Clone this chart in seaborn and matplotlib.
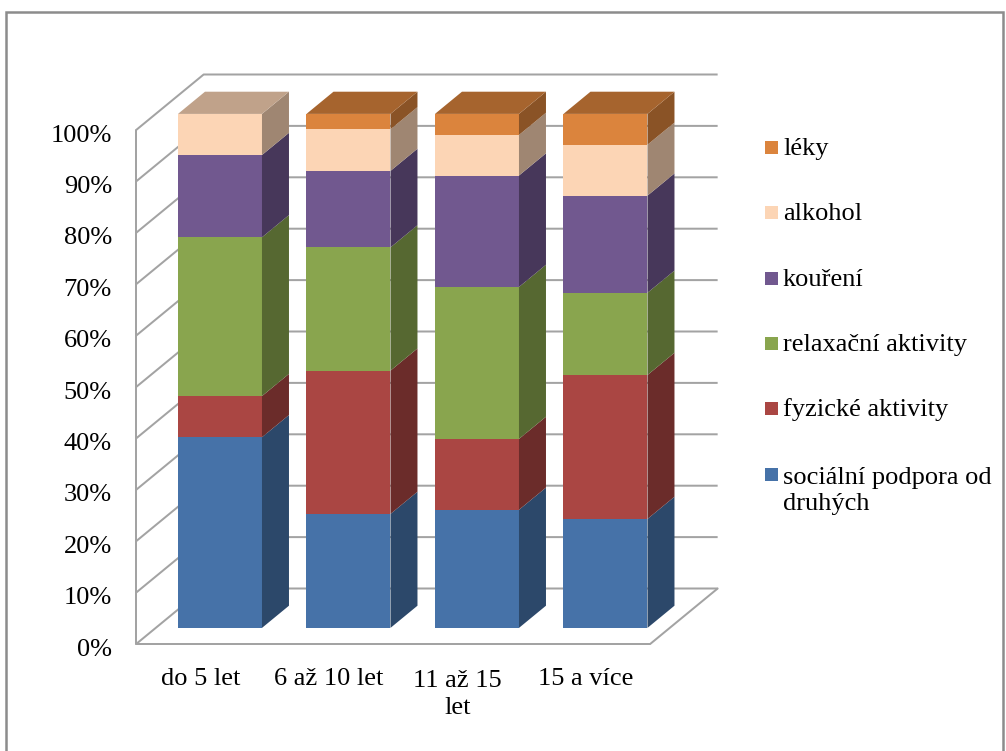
import numpy as np
import matplotlib
matplotlib.use("Agg")
import matplotlib.pyplot as plt
from matplotlib.colors import to_rgb
from matplotlib.lines import Line2D
from matplotlib.patches import Polygon, Rectangle
from matplotlib.transforms import Affine2D
import seaborn as sns

# ---- data -------------------------------------------------------------
categories = ["do 5 let", "6 až 10 let", "11 až 15\nlet", "15 a více"]
series_names = ["sociální podpora od\ndruhých", "fyzické aktivity",
                "relaxační aktivity", "kouření", "alkohol", "léky"]
social = [37.1, 22.2, 23.0, 21.2]
physical = [8.0, 27.9, 13.8, 28.0]
relaxation = [30.9, 24.0, 29.6, 16.0]
smoking = [16.0, 14.9, 21.7, 18.9]
alcohol = [8.0, 8.1, 7.9, 9.9]
medication = [0.0, 3.0, 4.1, 6.0]
series_colors = ["#4672A8", "#AA4643", "#89A54E", "#71588F", "#FCD5B5", "#DB843D"]
y_ticks = [0, 10, 20, 30, 40, 50, 60, 70, 80, 90, 100]
y_tick_labels = [f"{v}%" for v in y_ticks]

values = np.array([social, physical, relaxation, smoking, alcohol, medication], float)
shares = values / values.sum(axis=0) * 100.0  # 100 % stacked
positions = np.arange(len(categories))

# ---- layout (pixels) ----------------------------------------------------
W, H = 1006, 751
PX_X, PX_Y = 128.5, 5.14          # pixels per category unit / per percent
X0, Y0 = 200.4, 644.0             # pixel of category 0, 0 % on the front plane
DX, DY = 67.5 / PX_X, 55.5 / PX_Y  # depth of the floor in data units
D_FRONT, D_BACK = 0.29, 0.69      # bar depth range (fraction of floor depth)
BAR_W = 84 / PX_X

GRID = "#A3A3A3"
GRID_LW = 2.0 * 72 / 100
FONT = 19
LINE_GAP = 28.5  # pixels between wrapped text lines


def to_data(px, py):
    return (px - X0) / PX_X, (Y0 - py) / PX_Y


def shade(c, f):
    return tuple(np.clip(np.array(to_rgb(c)) * f, 0, 1))


sns.set_theme(style="white")
plt.rcParams["font.family"] = ["Liberation Serif", "DejaVu Serif"]

fig = plt.figure(figsize=(W / 100, H / 100), dpi=100)
ax = fig.add_axes([0, 0, 1, 1])
ax.set_axis_off()

# ---- walls and floor ----------------------------------------------------
x_left, x_right = -0.5, len(categories) - 0.5
for v in y_ticks:
    ax.plot([x_left, x_left + DX, x_right + DX], [v, v + DY, v + DY],
            color=GRID, lw=GRID_LW, zorder=1, solid_capstyle="butt")
ax.plot([x_left, x_left], [0, 100], color=GRID, lw=GRID_LW, zorder=1)
ax.plot([x_left, x_right, x_right + DX], [0, 0, DY],
        color=GRID, lw=GRID_LW, zorder=1, solid_joinstyle="miter")

# ---- bars: front faces ---------------------------------------------------
bottoms = np.zeros(len(categories))
for name, vals, col in zip(series_names, shares, series_colors):
    sns.barplot(x=positions, y=vals, bottom=bottoms.copy(), native_scale=True,
                orient="x", width=BAR_W, color=col, saturation=1,
                errorbar=None, linewidth=0, ax=ax, zorder=3,
                transform=Affine2D().translate(D_FRONT * DX, D_FRONT * DY) + ax.transData)
    bottoms += vals

# ---- bars: side and top faces -------------------------------------------
bottoms = np.zeros(len(categories))
for vals, col in zip(shares, series_colors):
    for i, h in enumerate(vals):
        if h <= 0:
            continue
        b = bottoms[i]
        xr = positions[i] + BAR_W / 2
        side = [(xr + D_FRONT * DX, b + D_FRONT * DY),
                (xr + D_BACK * DX, b + D_BACK * DY),
                (xr + D_BACK * DX, b + h + D_BACK * DY),
                (xr + D_FRONT * DX, b + h + D_FRONT * DY)]
        ax.add_patch(Polygon(side, closed=True, facecolor=shade(col, 0.63),
                             edgecolor="none", zorder=3))
    bottoms += vals

totals = shares.sum(axis=0)
for i in positions:
    top_idx = max(k for k in range(len(series_colors)) if shares[k, i] > 0)
    col = series_colors[top_idx]
    t = totals[i]
    xl, xr = positions[i] - BAR_W / 2, positions[i] + BAR_W / 2
    top = [(xl + D_FRONT * DX, t + D_FRONT * DY), (xr + D_FRONT * DX, t + D_FRONT * DY),
           (xr + D_BACK * DX, t + D_BACK * DY), (xl + D_BACK * DX, t + D_BACK * DY)]
    ax.add_patch(Polygon(top, closed=True, facecolor=shade(col, 0.76),
                         edgecolor="none", zorder=3))

# ---- axis labels ---------------------------------------------------------
lab_x, _ = to_data(112, 0)
base_shift = 11.5 / PX_Y
for v, lab in zip(y_ticks, y_tick_labels):
    ax.text(lab_x, v - base_shift, lab, ha="right", va="baseline",
            fontsize=FONT, color="black")

for p, lab in zip(positions, categories):
    extra = lab.count("\n") * LINE_GAP
    _, cat_y = to_data(0, 685 + extra)
    ax.text(p, cat_y, lab, ha="center", va="baseline", fontsize=FONT,
            color="black", linespacing=1.25)

# ---- legend --------------------------------------------------------------
sq = 13
for k, (name, col) in enumerate(zip(series_names[::-1], series_colors[::-1])):
    cy = 147.5 + 65.3 * k
    x1, y1 = to_data(765, cy + sq / 2)
    ax.add_patch(Rectangle((x1, y1), sq / PX_X, sq / PX_Y, facecolor=col,
                           edgecolor="none", zorder=3))
    extra = name.count("\n") * LINE_GAP
    tx, ty = to_data(783, cy + 7.5 + extra)
    ax.text(tx, ty, name, ha="left", va="baseline", fontsize=FONT,
            color="black", linespacing=1.25)

ax.set_xlim((0 - X0) / PX_X, (W - X0) / PX_X)
ax.set_ylim((Y0 - H) / PX_Y, Y0 / PX_Y)

# ---- outer frame -----------------------------------------------------------
fx = lambda px: px / W
fy = lambda py: 1 - py / H
fig.add_artist(Line2D([fx(6), fx(6), fx(1003), fx(1003)],
                      [fy(760), fy(12), fy(12), fy(760)],
                      transform=fig.transFigure, color="#8C8C8C", lw=2.5 * 72 / 100,
                      solid_joinstyle="miter"))

fig.savefig("out.png", dpi=100, facecolor="white")
